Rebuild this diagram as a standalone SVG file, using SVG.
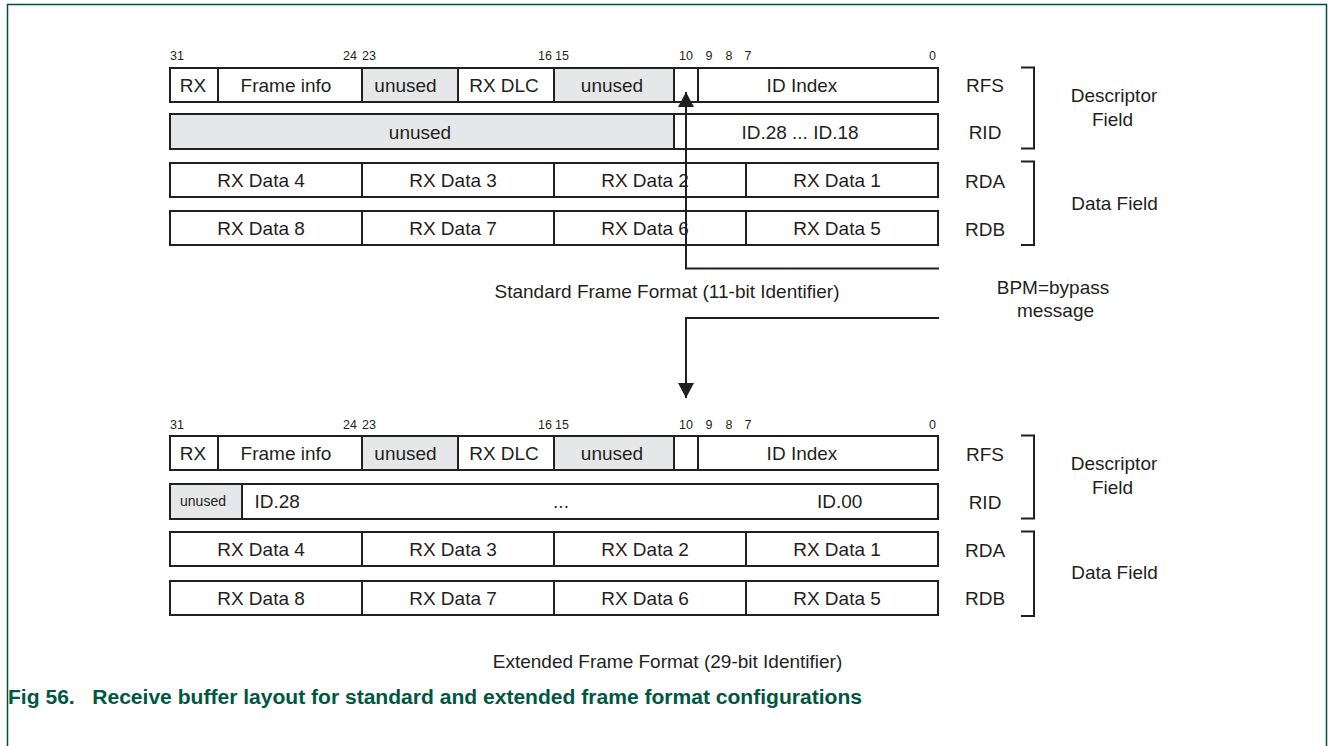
<svg xmlns="http://www.w3.org/2000/svg" width="1328" height="746" viewBox="0 0 1328 746">
<style>
.c{fill:#fff;stroke:#231f20;stroke-width:2}
.g{fill:#e6e7e8;stroke:#231f20;stroke-width:2}
.t{font-family:"Liberation Sans",Arial,sans-serif;font-size:19px;fill:#231f20;text-anchor:middle}
.s{font-family:"Liberation Sans",Arial,sans-serif;font-size:12.5px;fill:#231f20}
.m{text-anchor:middle}
.e{text-anchor:end}
.br{fill:none;stroke:#231f20;stroke-width:2}
.ln{fill:none;stroke:#231f20;stroke-width:2}
.fr{fill:none;stroke:#004f3c;stroke-width:1.5}
</style>
<defs>
<marker id="ah" markerWidth="16" markerHeight="16" viewBox="0 0 16 16" refX="15" refY="8" orient="auto" markerUnits="userSpaceOnUse">
<path d="M0,0 L15,8 L0,16 Z" fill="#231f20"/>
</marker>
</defs>
<rect width="1328" height="746" fill="#fff"/>
<g id="frame">
<path class="fr" d="M7.5,746 V4.5 H1326.5 V746"/>
</g>

<!-- Standard frame format -->
<g id="std-bits">
<text class="s" x="170" y="60">31</text>
<text class="s e" x="357" y="60">24</text>
<text class="s" x="362" y="60">23</text>
<text class="s e" x="552" y="60">16</text>
<text class="s" x="555" y="60">15</text>
<text class="s m" x="686" y="60">10</text>
<text class="s m" x="709" y="60">9</text>
<text class="s m" x="729" y="60">8</text>
<text class="s m" x="748" y="60">7</text>
<text class="s m" x="932.5" y="60">0</text>
</g>
<g id="std-rfs">
<rect class="c" x="170" y="68" width="48" height="34"/>
<rect class="c" x="218" y="68" width="144" height="34"/>
<rect class="g" x="362" y="68" width="96" height="34"/>
<rect class="c" x="458" y="68" width="96" height="34"/>
<rect class="g" x="554" y="68" width="120" height="34"/>
<rect class="c" x="674" y="68" width="24" height="34"/>
<rect class="c" x="698" y="68" width="240" height="34"/>
<text class="t" x="193" y="92">RX</text>
<text class="t" x="286" y="92">Frame info</text>
<text class="t" x="405.5" y="92">unused</text>
<text class="t" x="504" y="92">RX DLC</text>
<text class="t" x="612" y="92">unused</text>
<text class="t" x="802" y="92">ID Index</text>
<text class="t" x="985" y="92">RFS</text>
</g>
<g id="std-rid">
<rect class="g" x="170" y="114" width="504" height="35"/>
<rect class="c" x="674" y="114" width="264" height="35"/>
<text class="t" x="420" y="138.5">unused</text>
<text class="t" x="800" y="138.5">ID.28 ... ID.18</text>
<text class="t" x="985" y="139">RID</text>
</g>
<g id="std-rda">
<rect class="c" x="170" y="163" width="192" height="34"/>
<rect class="c" x="362" y="163" width="192" height="34"/>
<rect class="c" x="554" y="163" width="192" height="34"/>
<rect class="c" x="746" y="163" width="192" height="34"/>
<text class="t" x="261" y="187">RX Data 4</text>
<text class="t" x="453" y="187">RX Data 3</text>
<text class="t" x="645" y="187">RX Data 2</text>
<text class="t" x="837" y="187">RX Data 1</text>
<text class="t" x="985" y="188">RDA</text>
</g>
<g id="std-rdb">
<rect class="c" x="170" y="211" width="192" height="34"/>
<rect class="c" x="362" y="211" width="192" height="34"/>
<rect class="c" x="554" y="211" width="192" height="34"/>
<rect class="c" x="746" y="211" width="192" height="34"/>
<text class="t" x="261" y="235">RX Data 8</text>
<text class="t" x="453" y="235">RX Data 7</text>
<text class="t" x="645" y="235">RX Data 6</text>
<text class="t" x="837" y="235">RX Data 5</text>
<text class="t" x="985" y="235.5">RDB</text>
</g>
<g id="std-descriptor">
<path class="br" d="M1021,67.5 H1034 V148.5 H1021"/>
<text class="t" x="1114" y="101.5">Descriptor</text>
<text class="t" x="1112.5" y="125.5">Field</text>
</g>
<g id="std-data">
<path class="br" d="M1021,161.5 H1034 V245 H1021"/>
<text class="t" x="1114.5" y="210">Data Field</text>
</g>
<text class="t" x="667" y="298">Standard Frame Format (11-bit Identifier)</text>

<!-- Connectors -->
<g id="connectors">
<path class="ln" d="M939,268.5 H686 V92" marker-end="url(#ah)"/>
<path class="ln" d="M939,318 H686 V398" marker-end="url(#ah)"/>
</g>
<g id="bpm">
<text class="t" x="1053" y="294">BPM=bypass</text>
<text class="t" x="1055.5" y="316.5">message</text>
</g>

<!-- Extended frame format -->
<g id="ext-bits">
<text class="s" x="170" y="429">31</text>
<text class="s e" x="357" y="429">24</text>
<text class="s" x="362" y="429">23</text>
<text class="s e" x="552" y="429">16</text>
<text class="s" x="555" y="429">15</text>
<text class="s m" x="686" y="429">10</text>
<text class="s m" x="709" y="429">9</text>
<text class="s m" x="729" y="429">8</text>
<text class="s m" x="748" y="429">7</text>
<text class="s m" x="932.5" y="429">0</text>
</g>
<g id="ext-rfs">
<rect class="c" x="170" y="436" width="48" height="34"/>
<rect class="c" x="218" y="436" width="144" height="34"/>
<rect class="g" x="362" y="436" width="96" height="34"/>
<rect class="c" x="458" y="436" width="96" height="34"/>
<rect class="g" x="554" y="436" width="120" height="34"/>
<rect class="c" x="674" y="436" width="24" height="34"/>
<rect class="c" x="698" y="436" width="240" height="34"/>
<text class="t" x="193" y="460">RX</text>
<text class="t" x="286" y="460">Frame info</text>
<text class="t" x="405.5" y="460">unused</text>
<text class="t" x="504" y="460">RX DLC</text>
<text class="t" x="612" y="460">unused</text>
<text class="t" x="802" y="460">ID Index</text>
<text class="t" x="985" y="461">RFS</text>
</g>
<g id="ext-rid">
<rect class="g" x="170" y="484" width="72" height="35"/>
<rect class="c" x="242" y="484" width="696" height="35"/>
<text class="t" x="203" y="506" style="font-size:14px">unused</text>
<text class="t" x="254.5" y="508" style="text-anchor:start">ID.28</text>
<text class="t" x="561" y="508">...</text>
<text class="t" x="817" y="508" style="text-anchor:start">ID.00</text>
<text class="t" x="985" y="509">RID</text>
</g>
<g id="ext-rda">
<rect class="c" x="170" y="532" width="192" height="34"/>
<rect class="c" x="362" y="532" width="192" height="34"/>
<rect class="c" x="554" y="532" width="192" height="34"/>
<rect class="c" x="746" y="532" width="192" height="34"/>
<text class="t" x="261" y="556">RX Data 4</text>
<text class="t" x="453" y="556">RX Data 3</text>
<text class="t" x="645" y="556">RX Data 2</text>
<text class="t" x="837" y="556">RX Data 1</text>
<text class="t" x="985" y="556.5">RDA</text>
</g>
<g id="ext-rdb">
<rect class="c" x="170" y="581" width="192" height="34"/>
<rect class="c" x="362" y="581" width="192" height="34"/>
<rect class="c" x="554" y="581" width="192" height="34"/>
<rect class="c" x="746" y="581" width="192" height="34"/>
<text class="t" x="261" y="605">RX Data 8</text>
<text class="t" x="453" y="605">RX Data 7</text>
<text class="t" x="645" y="605">RX Data 6</text>
<text class="t" x="837" y="605">RX Data 5</text>
<text class="t" x="985" y="604.5">RDB</text>
</g>
<g id="ext-descriptor">
<path class="br" d="M1021,435.5 H1034 V518.5 H1021"/>
<text class="t" x="1114" y="470">Descriptor</text>
<text class="t" x="1112.5" y="494">Field</text>
</g>
<g id="ext-data">
<path class="br" d="M1021,531.5 H1034 V616 H1021"/>
<text class="t" x="1114.5" y="578.5">Data Field</text>
</g>
<text class="t" x="667.5" y="668">Extended Frame Format (29-bit Identifier)</text>

<text x="8" y="704" font-family="'Liberation Sans',Arial,sans-serif" font-size="19.5" font-weight="bold" fill="#00573f" textLength="854" lengthAdjust="spacingAndGlyphs" xml:space="preserve">Fig 56.   Receive buffer layout for standard and extended frame format configurations</text>
</svg>
